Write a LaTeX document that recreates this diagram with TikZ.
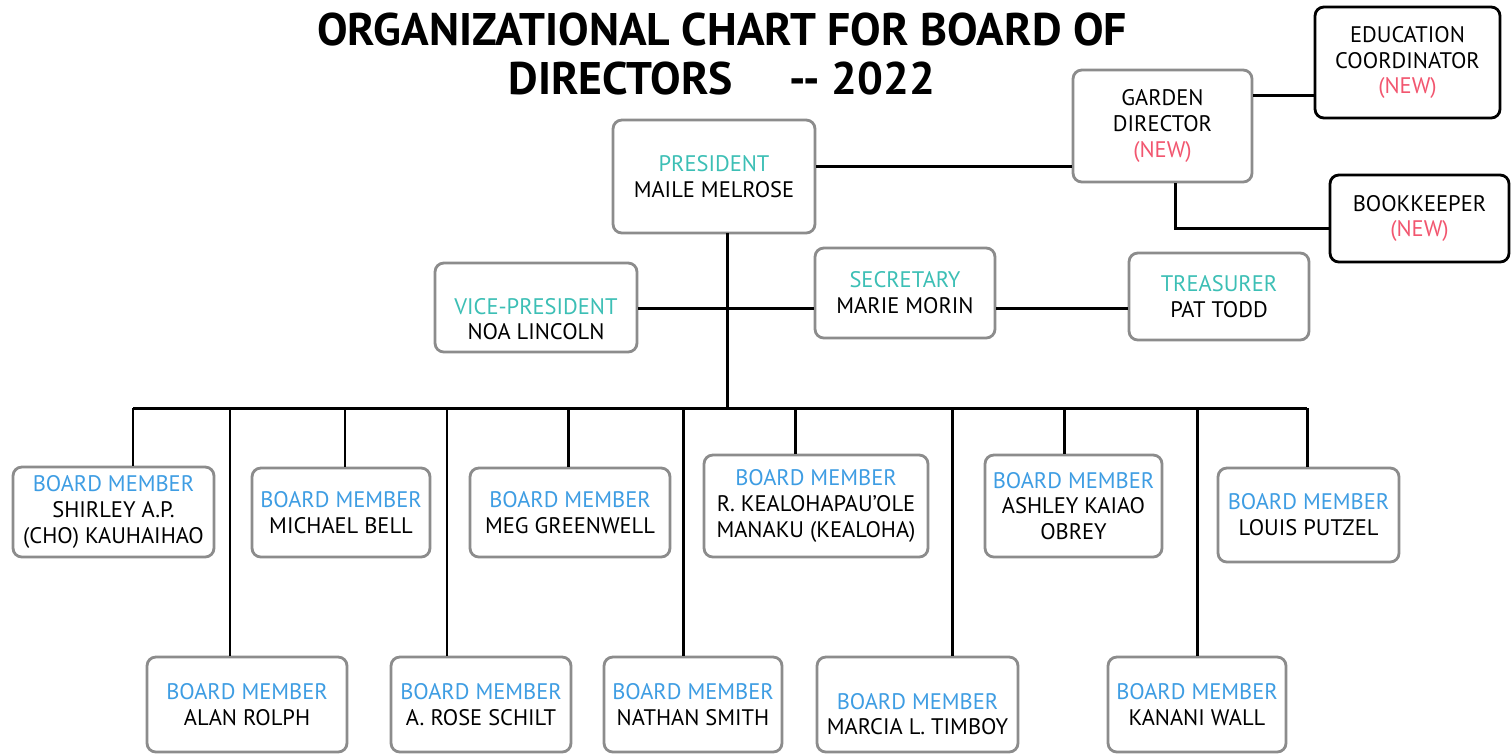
\documentclass[tikz,border=0pt]{standalone}
\usepackage{fontspec}
\setmainfont{PT Sans}
\definecolor{officer}{HTML}{3CBFB5}
\definecolor{member}{HTML}{3E9DE3}
\definecolor{newred}{HTML}{F2566F}
\definecolor{boxgray}{HTML}{8C8C8C}
\newcommand{\role}[1]{\textcolor{officer}{#1}}
\newcommand{\boardrole}{\textcolor{member}{BOARD MEMBER}}
\newcommand{\isnew}{\textcolor{newred}{(NEW)}}

\begin{document}
\begin{tikzpicture}[x=0.02cm, y=-0.02cm,
  box/.style={draw=boxgray, line width=1.6pt, rounded corners=5pt, align=center,
    inner sep=0pt, fill=white, font=\fontsize{12.8}{14.7}\selectfont},
  darkbox/.style={box, draw=black},
  link/.style={line width=1.7pt}]
            \useasboundingbox (0,0) rectangle (1511,755);

            % title
            \node[align=center, font=\bfseries\fontsize{26}{27.5}\selectfont] (title) at (722,54)
                {ORGANIZATIONAL CHART FOR BOARD OF\\DIRECTORS\quad\ -{}- 2022};

            % officers
            \node[box, minimum width=4.04cm, minimum height=2.26cm] (pres) at (714,176.5)
                {\role{PRESIDENT}\\MAILE MELROSE};
            \node[box, minimum width=3.58cm, minimum height=2.24cm] (garden) at (1162.5,126)
                {GARDEN\\DIRECTOR\\\isnew};
            \node[darkbox, minimum width=3.7cm, minimum height=2.22cm] (educ) at (1407.5,62.5)
                {EDUCATION\\COORDINATOR\\\isnew};
            \node[darkbox, minimum width=3.58cm, minimum height=1.74cm] (book) at (1419.5,218.5)
                {BOOKKEEPER\\\isnew};
            \node[box, minimum width=4.04cm, minimum height=1.78cm, text height=1.3cm] (vp) at (536,307.5)
                {\role{VICE-PRESIDENT}\\NOA LINCOLN};
            \node[box, minimum width=3.6cm, minimum height=1.8cm] (sec) at (905,293)
                {\role{SECRETARY}\\MARIE MORIN};
            \node[box, minimum width=3.6cm, minimum height=1.74cm] (treas) at (1219,296.5)
                {\role{TREASURER}\\PAT TODD};

            % board members, upper row
            \node[box, minimum width=4.02cm, minimum height=1.8cm] (m1) at (113.5,512)
                {\boardrole\\SHIRLEY A.P.\\(CHO) KAUHAIHAO};
            \node[box, minimum width=3.56cm, minimum height=1.78cm] (m2) at (341,512.5)
                {\boardrole\\MICHAEL BELL};
            \node[box, minimum width=4.0cm, minimum height=1.78cm] (m3) at (570,512.5)
                {\boardrole\\MEG GREENWELL};
            \node[box, minimum width=4.48cm, minimum height=2.04cm] (m4) at (816,506)
                {\boardrole\\R. KEALOHAPAU'OLE\\MANAKU (KEALOHA)};
            \node[box, minimum width=3.54cm, minimum height=2.04cm] (m5) at (1073.5,506)
                {\boardrole\\ASHLEY KAIAO\\OBREY};
            \node[box, minimum width=3.62cm, minimum height=1.88cm] (m6) at (1308.5,515)
                {\boardrole\\LOUIS PUTZEL};

            % board members, lower row
            \node[box, minimum width=4.0cm, minimum height=1.9cm] (m7) at (247,704.5)
                {\boardrole\\ALAN ROLPH};
            \node[box, minimum width=3.6cm, minimum height=1.9cm] (m8) at (481,704.5)
                {\boardrole\\A. ROSE SCHILT};
            \node[box, minimum width=3.56cm, minimum height=1.9cm] (m9) at (693,704.5)
                {\boardrole\\NATHAN SMITH};
            \node[box, minimum width=4.02cm, minimum height=1.9cm, text height=1.22cm] (m10) at (917.5,704.5)
                {\boardrole\\MARCIA L. TIMBOY};
            \node[box, minimum width=3.56cm, minimum height=1.9cm] (m11) at (1197,704.5)
                {\boardrole\\KANANI WALL};

            % bus points
            \coordinate (top) at (727,233);
            \coordinate (mid) at (727,308);
            \coordinate (pg) at (900,166);
            \coordinate (ge) at (1280,95);
            \coordinate (b1) at (133,408);
            \coordinate (b2) at (230,408);
            \coordinate (b3) at (345,408);
            \coordinate (b4) at (447,408);
            \coordinate (b5) at (568,408);
            \coordinate (b6) at (683,408);
            \coordinate (bc) at (727,408);
            \coordinate (b7) at (795,408);
            \coordinate (b8) at (952,408);
            \coordinate (b9) at (1064,408);
            \coordinate (b10) at (1197,408);
            \coordinate (b11) at (1307,408);
            \coordinate (corner) at (1175,228);

            \draw[link] (pres.east |- pg) -- (garden.west |- pg);
            \draw[link] (garden.east |- ge) -- (educ.west |- ge);
            \draw[link] (garden.south -| corner) -- (corner) -- (book.west |- corner);
            \draw[link] (top) -- (bc);
            \draw[link] (vp.east |- mid) -- (sec.west |- mid);
            \draw[link] (sec.east |- mid) -- (treas.west |- mid);
            \draw[link] (b1) -- (b11);

            \draw[link] (b1) -- (m1.north -| b1);
            \draw[link] (b3) -- (m2.north -| b3);
            \draw[link] (b5) -- (m3.north -| b5);
            \draw[link] (b7) -- (m4.north -| b7);
            \draw[link] (b9) -- (m5.north -| b9);
            \draw[link] (b11) -- (m6.north -| b11);

            \draw[link] (b2) -- (m7.north -| b2);
            \draw[link] (b4) -- (m8.north -| b4);
            \draw[link] (b6) -- (m9.north -| b6);
            \draw[link] (b8) -- (m10.north -| b8);
            \draw[link] (b10) -- (m11.north -| b10);
        \end{tikzpicture}
\end{document}
